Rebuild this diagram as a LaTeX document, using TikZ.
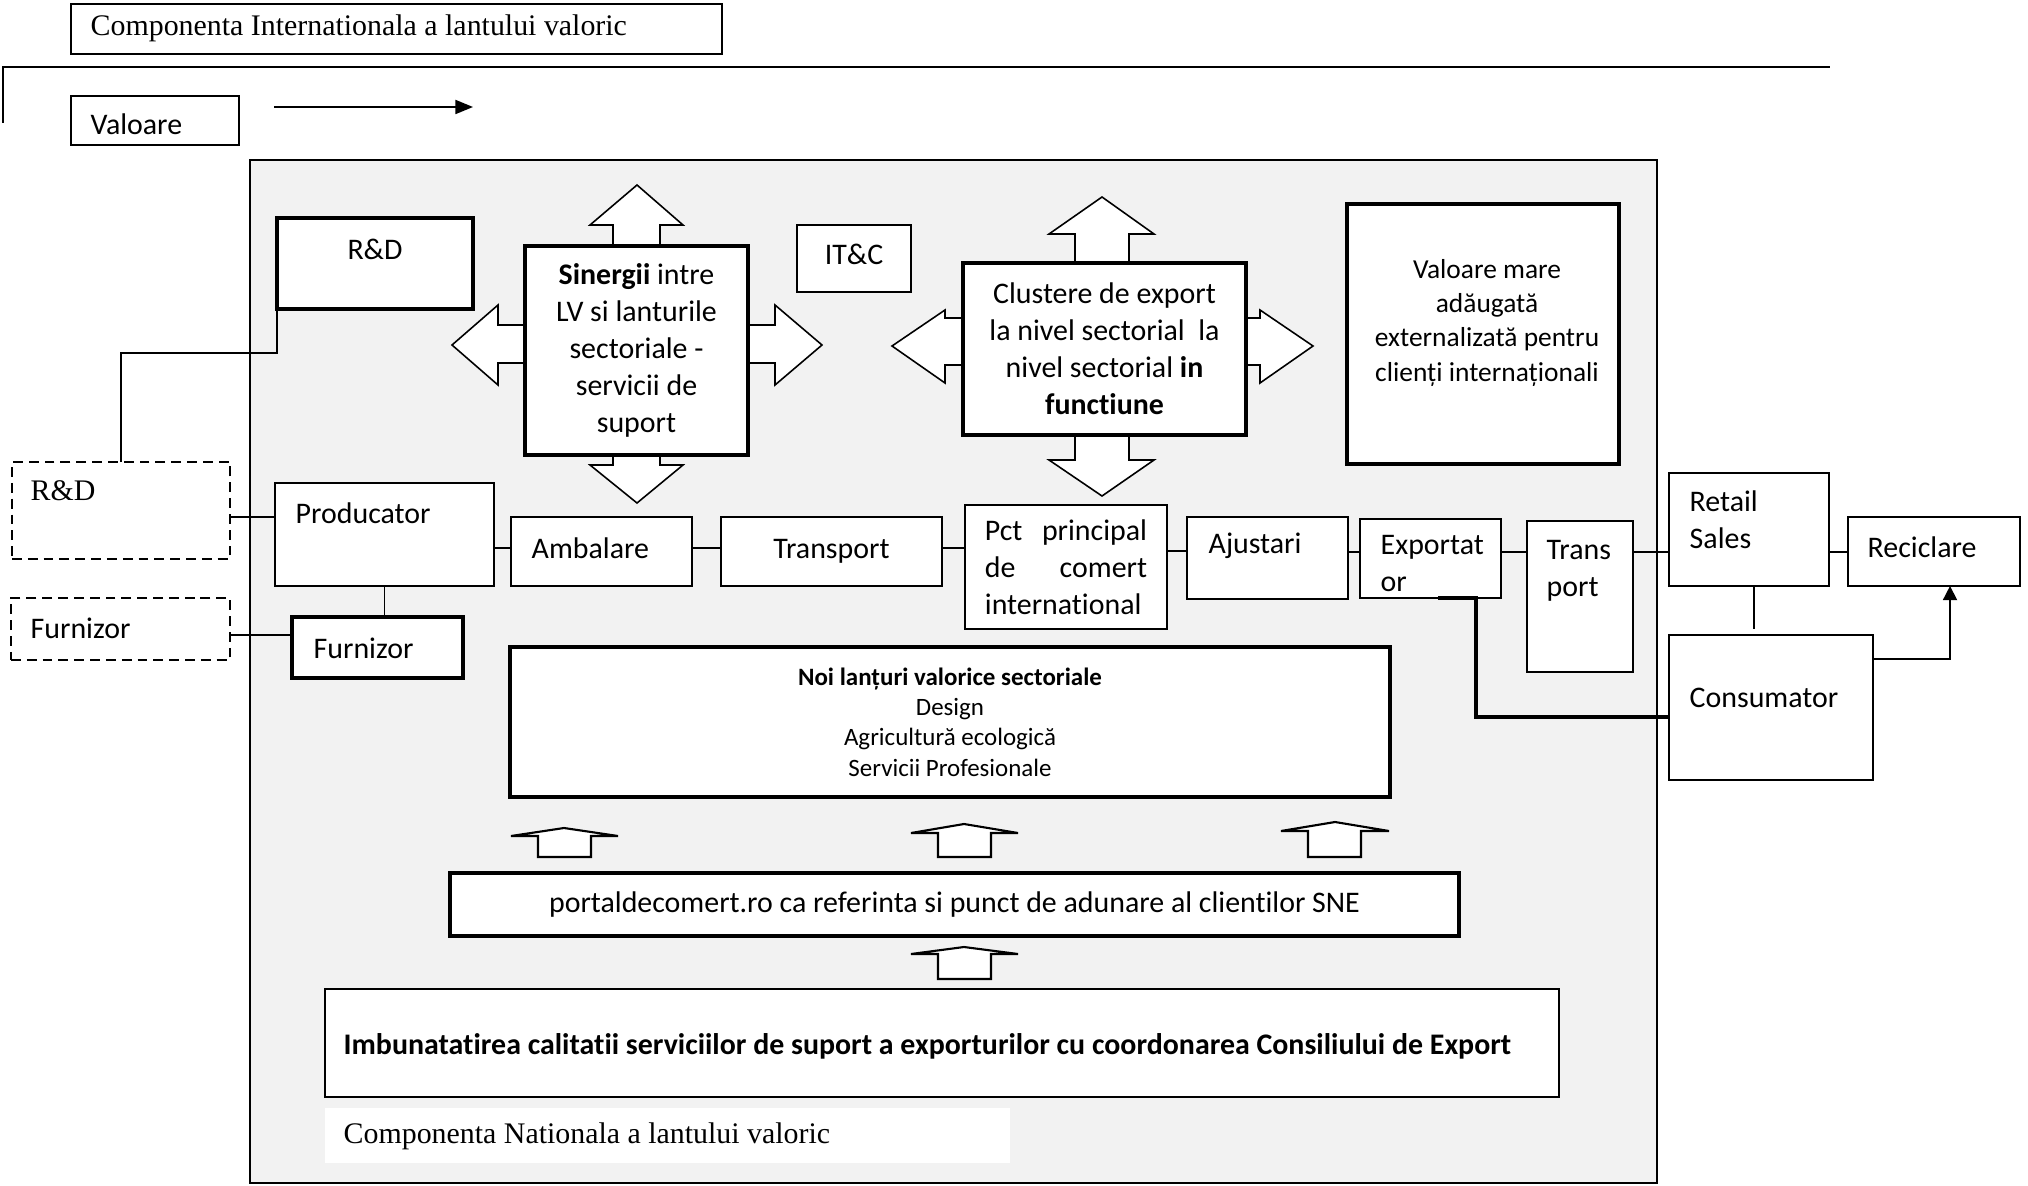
\documentclass[tikz,border=0pt]{standalone}
\usepackage{fontspec}
\setmainfont{Carlito}[Ligatures={NoCommon}]
\newfontfamily\tms{Liberation Serif}
\usetikzlibrary{arrows.meta}
\definecolor{bgc}{HTML}{F2F2F2}
\begin{document}
\begin{tikzpicture}[x=0.01cm,y=-0.01cm, font=\fontsize{8.5}{10.5}\selectfont,
 ln/.style={line width=0.45pt},
 rect/.style args={#1/#2/#3/#4}{anchor=north west, at={(#1,#2)},
   minimum width={(#3-#1)*0.01cm}, minimum height={(#4-#2)*0.01cm}},
 box/.style={draw, fill=white, line width=0.45pt, inner sep=0pt, outer sep=0pt},
 tbox/.style={box, line width=1.15pt},
 dbox/.style={box, dash pattern=on 2.8pt off 1.7pt},
 blk/.style={draw, fill=white, line width=0.45pt, line join=miter},
 sblk/.style={draw, fill=white, line width=0.6pt, line join=miter},
 txt/.style={inner sep=0pt, anchor=west},
 mtxt/.style={inner sep=0pt, anchor=north west, align=left},
 ctxt/.style={inner sep=0pt, align=center},
 serif/.style={font=\tms\fontsize{8.5}{10.5}\selectfont}
]
\useasboundingbox (0,0) rectangle (2028,1185);

% ---------- international header ----------
\node[box, rect=71/4/722/54] (intl) {};
\node[txt, serif] (intlT) at (90,28) {Componenta Internationala a lantului valoric};
\coordinate (topL) at (3,123);
\coordinate (topC) at (3,67);
\coordinate (topR) at (1830,67);
\draw[ln] (topL) -- (topC) -- (topR);

\node[box, rect=71/96/239/145] (val) {};
\node[txt] (valT) at (90,124) {Valoare};
\coordinate (va) at (274,107);
\coordinate (vb) at (473,107);
\draw[ln, -{Triangle[length=5pt,width=4pt]}] (va) -- (vb);

% ---------- national area ----------
\draw[ln, fill=bgc] (250,160) rectangle (1657,1183);

% block arrows around Sinergii
\draw[blk] (613,246)--(613,225)--(590,225)--(637,185)--(683,225)--(660,225)--(660,246)--cycle;
\draw[blk] (613,455)--(613,465)--(590,465)--(637,503)--(683,465)--(660,465)--(660,455)--cycle;
\draw[blk] (525,325)--(498,325)--(498,305)--(452,345)--(498,385)--(498,363)--(525,363)--cycle;
\draw[blk] (748,325)--(775,325)--(775,305)--(822,345)--(775,385)--(775,363)--(748,363)--cycle;
% block arrows around Clustere
\draw[blk] (1075,263)--(1075,234)--(1049,234)--(1102,197)--(1154,234)--(1129,234)--(1129,263)--cycle;
\draw[blk] (1075,435)--(1075,460)--(1049,460)--(1102,496)--(1154,460)--(1129,460)--(1129,435)--cycle;
\draw[blk] (963,318)--(945,318)--(945,310)--(892,346)--(945,383)--(945,365)--(963,365)--cycle;
\draw[blk] (1246,318)--(1260,318)--(1260,310)--(1313,346)--(1260,383)--(1260,365)--(1246,365)--cycle;

% small up arrows
\draw[sblk] (538,857)--(538,836)--(511,836)--(564,828)--(618,836)--(591,836)--(591,857)--cycle;
\draw[sblk] (938,857)--(938,833)--(911,833)--(964,824)--(1018,833)--(991,833)--(991,857)--cycle;
\draw[sblk] (1308,857)--(1308,831)--(1281,831)--(1335,822)--(1389,831)--(1361,831)--(1361,857)--cycle;
\draw[sblk] (938,979)--(938,954)--(911,954)--(964,947)--(1018,954)--(991,954)--(991,979)--cycle;

% top boxes
\node[tbox, rect=277/218/473/309] (rd) {};
\node[ctxt] (rdT) at (375,249) {R\&D};
\node[tbox, rect=525/246/748/455, align=center] (sin)
  {\textbf{Sinergii} intre\\LV si lanturile\\sectoriale -\\servicii de\\suport};
\node[box, rect=797/225/911/292] (itc) {};
\node[ctxt] (itcT) at (854,254) {IT\&C};
\node[tbox, rect=963/263/1246/435, align=center] (clu)
  {Clustere de export\\la nivel sectorial\ \ la\\nivel sectorial \textbf{in}\\\textbf{functiune}};
\node[tbox, rect=1347/204/1619/464] (vm) {};
\node[ctxt, anchor=north, font=\fontsize{7.8}{9.7}\selectfont] (vmT) at (1487,259)
  {Valoare mare\\adăugată\\externalizată pentru\\clienți internaționali};

% left external boxes
\node[dbox, rect=12/462/230/559] (rdd) {};
\node[txt, serif] (rddT) at (30,491) {R\&D};
\node[dbox, rect=11/598/230/660] (fd) {};
\node[txt] (fdT) at (30,628) {Furnizor};

% chain
\node[box, rect=275/483/494/586] (prod) {};
\node[txt] (prodT) at (295,513) {Producator};
\node[tbox, rect=292/617/463/678] (furn) {};
\node[txt] (furnT) at (313,648) {Furnizor};
\node[box, rect=511/517/692/586] (amb) {};
\node[txt] (ambT) at (531,548) {Ambalare};
\node[box, rect=721/517/942/586] (trans) {Transport};
\node[box, rect=965/505/1167/629, text width=1.62cm, align=left] (pct)
  {Pct\hfill principal\\de\hfill comert\\international};
\node[box, rect=1187/517/1348/599] (ajust) {};
\node[txt] (ajustT) at (1208,546) {Ajustari};
\node[box, rect=1360/519/1501/598] (exp) {};
\node[mtxt] (expT) at (1380,535) {Exportat\\or};
\node[box, rect=1527/521/1633/672] (tr2) {};
\node[mtxt] (tr2T) at (1546,540) {Trans\\port};
\node[box, rect=1669/473/1829/586] (ret) {};
\node[mtxt] (retT) at (1689,490) {Retail\\Sales};
\node[box, rect=1848/517/2020/586] (rec) {};
\node[txt] (recT) at (1867,547) {Reciclare};
\node[box, rect=1669/635/1873/780] (cons) {};
\node[txt] (consT) at (1689,698) {Consumator};

% lower boxes
\node[tbox, rect=510/647/1390/797, align=center, font=\fontsize{7.1}{8.6}\selectfont] (noi)
  {\textbf{Noi lanțuri valorice sectoriale}\\Design\\Agricultură ecologică\\Servicii Profesionale};
\node[tbox, rect=450/873/1459/936] (port)
  {portaldecomert.ro ca referinta si punct de adunare al clientilor SNE};
\node[box, line width=0.6pt, rect=325/989/1559/1097] (imb) {};
\node[txt, font=\fontsize{8.5}{10.5}\selectfont\bfseries] (imbT) at (343,1046)
  {Imbunatatirea calitatii serviciilor de suport a exporturilor cu coordonarea Consiliului de Export};
\node[fill=white, inner sep=0pt, outer sep=0pt, rect=325/1108/1010/1163] (natl) {};
\node[txt, serif] (natlT) at (343,1136) {Componenta Nationala a lantului valoric};

% connectors
\coordinate (rdknee) at (124,353);
\draw[ln] (rdd.north) -- (rdd.north |- rdknee) -| (rd.west);
\draw[ln] (rdd.east |- 0,517) -- (prod.west |- 0,517);
\draw[ln] (fd.east |- 0,635) -- (furn.west |- 0,635);
\draw[ln] (prod.south) -- (prod.south |- furn.north);
\draw[ln] (prod.east |- 0,548) -- (amb.west |- 0,548);
\draw[ln] (amb.east |- 0,548) -- (trans.west |- 0,548);
\draw[ln] (trans.east |- 0,548) -- (pct.west |- 0,548);
\draw[ln] (pct.east |- 0,551) -- (ajust.west |- 0,551);
\draw[ln] (ajust.east |- 0,552) -- (exp.west |- 0,552);
\draw[ln] (exp.east |- 0,552) -- (tr2.west |- 0,552);
\draw[ln] (tr2.east |- 0,552) -- (ret.west |- 0,552);
\draw[ln] (ret.east |- 0,552) -- (rec.west |- 0,552);
\draw[ln, shorten >=1.7pt] (ret.south -| 1754,0) -- (cons.north -| 1754,0);
\draw[ln, -{Triangle[length=4pt,width=4pt]}] (cons.east |- 0,659) -| (rec.south -| 1950,0);
\draw[line width=0.9pt] (exp.south -| 1438,0) -| (1476,717) -- (cons.west |- 0,717);
\end{tikzpicture}
\end{document}
